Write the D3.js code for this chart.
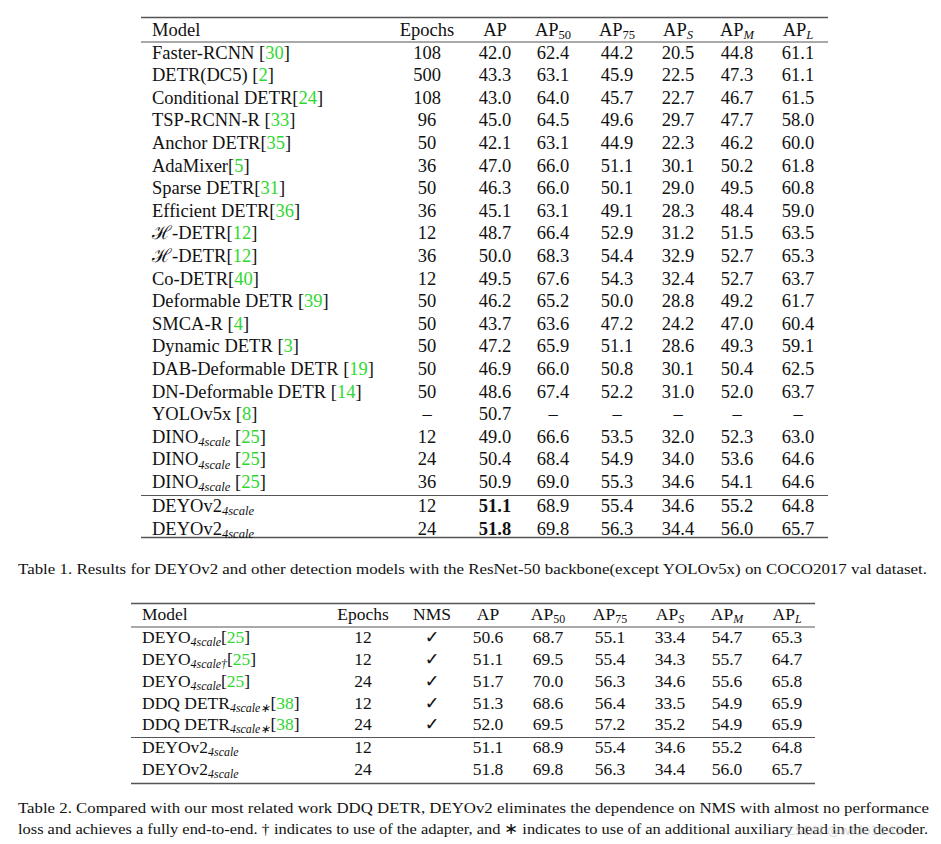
<!DOCTYPE html>
<html>
<head>
<meta charset="utf-8">
<script src="https://cdn.jsdelivr.net/npm/d3@7"></script>
<style>
  body { margin: 0; background: #fff; }
  text { font-family: "Liberation Serif", "Times New Roman", serif; fill: #111; }
</style>
</head>
<body>
<svg id="chart"></svg>
<script>
var width = 941;
var height = 844;

// ---- Table 1 data ----
var header1 = ["Model", "Epochs", "AP", "AP_{50}", "AP_{75}", "AP_{S}", "AP_{M}", "AP_{L}"];
var models1 = ["Faster-RCNN [30]", "DETR(DC5) [2]", "Conditional DETR[24]", "TSP-RCNN-R [33]", "Anchor DETR[35]",
  "AdaMixer[5]", "Sparse DETR[31]", "Efficient DETR[36]", "\u210B-DETR[12]", "\u210B-DETR[12]", "Co-DETR[40]",
  "Deformable DETR [39]", "SMCA-R [4]", "Dynamic DETR [3]", "DAB-Deformable DETR [19]", "DN-Deformable DETR [14]",
  "YOLOv5x [8]", "DINO_{4scale} [25]", "DINO_{4scale} [25]", "DINO_{4scale} [25]", "DEYOv2_{4scale}", "DEYOv2_{4scale}"];
var epochs1 = [108, 500, 108, 96, 50, 36, 50, 36, 12, 36, 12, 50, 50, 50, 50, 50, null, 12, 24, 36, 12, 24];
var ap1   = [42.0, 43.3, 43.0, 45.0, 42.1, 47.0, 46.3, 45.1, 48.7, 50.0, 49.5, 46.2, 43.7, 47.2, 46.9, 48.6, 50.7, 49.0, 50.4, 50.9, 51.1, 51.8];
var ap50_1 = [62.4, 63.1, 64.0, 64.5, 63.1, 66.0, 66.0, 63.1, 66.4, 68.3, 67.6, 65.2, 63.6, 65.9, 66.0, 67.4, null, 66.6, 68.4, 69.0, 68.9, 69.8];
var ap75_1 = [44.2, 45.9, 45.7, 49.6, 44.9, 51.1, 50.1, 49.1, 52.9, 54.4, 54.3, 50.0, 47.2, 51.1, 50.8, 52.2, null, 53.5, 54.9, 55.3, 55.4, 56.3];
var apS_1  = [20.5, 22.5, 22.7, 29.7, 22.3, 30.1, 29.0, 28.3, 31.2, 32.9, 32.4, 28.8, 24.2, 28.6, 30.1, 31.0, null, 32.0, 34.0, 34.6, 34.6, 34.4];
var apM_1  = [44.8, 47.3, 46.7, 47.7, 46.2, 50.2, 49.5, 48.4, 51.5, 52.7, 52.7, 49.2, 47.0, 49.3, 50.4, 52.0, null, 52.3, 53.6, 54.1, 55.2, 56.0];
var apL_1  = [61.1, 61.1, 61.5, 58.0, 60.0, 61.8, 60.8, 59.0, 63.5, 65.3, 63.7, 61.7, 60.4, 59.1, 62.5, 63.7, null, 63.0, 64.6, 64.6, 64.8, 65.7];
var boldAP1 = [20, 21]; // rows with bold AP

// ---- Table 2 data ----
var header2 = ["Model", "Epochs", "NMS", "AP", "AP_{50}", "AP_{75}", "AP_{S}", "AP_{M}", "AP_{L}"];
var models2 = ["DEYO_{4scale}[25]", "DEYO_{4scale\u2020}[25]", "DEYO_{4scale}[25]", "DDQ DETR_{4scale\u2217}[38]",
  "DDQ DETR_{4scale\u2217}[38]", "DEYOv2_{4scale}", "DEYOv2_{4scale}"];
var epochs2 = [12, 12, 24, 12, 24, 12, 24];
var nms2    = [true, true, true, true, true, false, false];
var ap2     = [50.6, 51.1, 51.7, 51.3, 52.0, 51.1, 51.8];
var ap50_2  = [68.7, 69.5, 70.0, 68.6, 69.5, 68.9, 69.8];
var ap75_2  = [55.1, 55.4, 56.3, 56.4, 57.2, 55.4, 56.3];
var apS_2   = [33.4, 34.3, 34.6, 33.5, 35.2, 34.6, 34.4];
var apM_2   = [54.7, 55.7, 55.6, 54.9, 54.9, 55.2, 56.0];
var apL_2   = [65.3, 64.7, 65.8, 65.9, 65.9, 64.8, 65.7];

var caption1 = "Table 1. Results for DEYOv2 and other detection models with the ResNet-50 backbone(except YOLOv5x) on COCO2017 val dataset.";
var caption2 = ["Table 2. Compared with our most related work DDQ DETR, DEYOv2 eliminates the dependence on NMS with almost no performance",
  "loss and achieves a fully end-to-end. \u2020 indicates to use of the adapter, and \u2217 indicates to use of an additional auxiliary head in the decoder."];

var fmt = d3.format(".1f");
var green = "#2fd82f";

var svg = d3.select("#chart")
    .attr("width", width)
    .attr("height", height);

svg.append("rect").attr("width", width).attr("height", height).attr("fill", "#fff");

// write a label with _{sub} subscripts and [n] green citations into a text node
function richText(sel, str, size) {
    var parts = str.split(/(_\{[^}]*\}|\[\d+\])/).filter(function(s) { return s.length; });
    var shift = size * 0.17;
    var back = 0; // baseline correction owed by the next tspan
    function span(txt) {
        var t = sel.append("tspan").text(txt);
        if (back) { t.attr("dy", back); back = 0; }
        return t;
    }
    parts.forEach(function(p) {
        if (p.indexOf("_{") === 0) {
            var sub = p.slice(2, -1);
            span(sub)
                .attr("dy", shift)
                .style("font-size", (size * 0.68) + "px")
                .style("font-style", /^\d+$/.test(sub) ? "normal" : "italic");
            back = -shift;
        } else if (p[0] === "[") {
            span("[");
            sel.append("tspan").style("fill", green).text(p.slice(1, -1));
            sel.append("tspan").text("]");
        } else {
            span(p);
        }
    });
}

function drawTable(opt) {
    var g = svg.append("g");
    var size = opt.size;

    var y = d3.scaleLinear().domain([0, 1]).range([opt.row0, opt.row0 + opt.step]);
    var rowY = function(i) { return y(i) + (i >= opt.split ? opt.splitGap : 0); };

    // rules
    var rules = [
        {y: opt.top, w: 1.6},
        {y: opt.headRule, w: 1},
        {y: opt.sepRule, w: 1},
        {y: opt.bottom, w: 1.6}
    ];
    g.selectAll("line.rule")
        .data(rules)
        .enter().append("line")
        .attr("class", "rule")
        .attr("x1", opt.x0).attr("x2", opt.x1)
        .attr("y1", function(d) { return d.y; })
        .attr("y2", function(d) { return d.y; })
        .attr("stroke", "#555")
        .attr("stroke-width", function(d) { return d.w; });

    // header
    g.selectAll("text.head")
        .data(opt.header)
        .enter().append("text")
        .attr("class", "head")
        .attr("x", function(d, i) { return opt.colX[i]; })
        .attr("y", opt.headY + size * 0.33)
        .attr("text-anchor", function(d, i) { return i === 0 ? "start" : "middle"; })
        .style("font-size", size + "px")
        .each(function(d) { richText(d3.select(this), d, size); });

    // body cells
    opt.columns.forEach(function(col, c) {
        g.selectAll("text.c" + c)
            .data(col.values)
            .enter().append("text")
            .attr("class", "c" + c)
            .attr("x", opt.colX[c])
            .attr("y", function(d, i) { return rowY(i) + size * 0.33; })
            .attr("text-anchor", c === 0 ? "start" : "middle")
            .style("font-size", size + "px")
            .style("font-weight", function(d, i) { return col.bold && col.bold.indexOf(i) >= 0 ? "bold" : null; })
            .each(function(d) {
                var t = d3.select(this);
                if (col.type === "label") richText(t, d, size);
                else if (col.type === "check") t.text(d ? "\u2713" : "").style("font-family", "DejaVu Sans").style("font-size", size + "px");
                else if (d === null) t.text("\u2013");
                else t.text(col.type === "int" ? d : fmt(d));
            });
    });
}

drawTable({
    size: 18.5,
    x0: 141, x1: 828,
    top: 17.5, headRule: 42, sepRule: 495.5, bottom: 537.5,
    headY: 29.5,
    row0: 52.5, step: 22.6, split: 20, splitGap: 1.6,
    header: header1,
    colX: [152, 427, 495, 553, 617, 678, 737, 798],
    columns: [
        {type: "label", values: models1},
        {type: "int", values: epochs1},
        {type: "num", values: ap1, bold: boldAP1},
        {type: "num", values: ap50_1},
        {type: "num", values: ap75_1},
        {type: "num", values: apS_1},
        {type: "num", values: apM_1},
        {type: "num", values: apL_1}
    ]
});

drawTable({
    size: 17.5,
    x0: 131, x1: 815,
    top: 603.5, headRule: 627, sepRule: 737.5, bottom: 783.5,
    headY: 614.5,
    row0: 637.5, step: 21.8, split: 5, splitGap: 0.5,
    header: header2,
    colX: [142, 363, 432, 488, 548, 610, 670, 727, 787],
    columns: [
        {type: "label", values: models2},
        {type: "int", values: epochs2},
        {type: "check", values: nms2},
        {type: "num", values: ap2},
        {type: "num", values: ap50_2},
        {type: "num", values: ap75_2},
        {type: "num", values: apS_2},
        {type: "num", values: apM_2},
        {type: "num", values: apL_2}
    ]
});

// captions
svg.append("text")
    .attr("x", 18).attr("y", 574)
    .attr("textLength", 909).attr("lengthAdjust", "spacingAndGlyphs")
    .style("font-size", "15.5px")
    .text(caption1);

svg.selectAll("text.cap2")
    .data(caption2)
    .enter().append("text")
    .attr("class", "cap2")
    .attr("x", 18)
    .attr("y", function(d, i) { return 813 + i * 21; })
    .attr("textLength", function(d, i) { return i ? 910 : 911; })
    .attr("lengthAdjust", "spacingAndGlyphs")
    .style("font-size", "15.5px")
    .text(function(d) { return d; });

// faint watermark over the caption end
svg.append("text")
    .attr("x", 786).attr("y", 835)
    .style("font-family", "DejaVu Sans")
    .style("font-size", "13px")
    .style("fill", "#c4c4c4")
    .style("opacity", 0.6)
    .text("CSDN @wldo1143");
</script>
</body>
</html>
